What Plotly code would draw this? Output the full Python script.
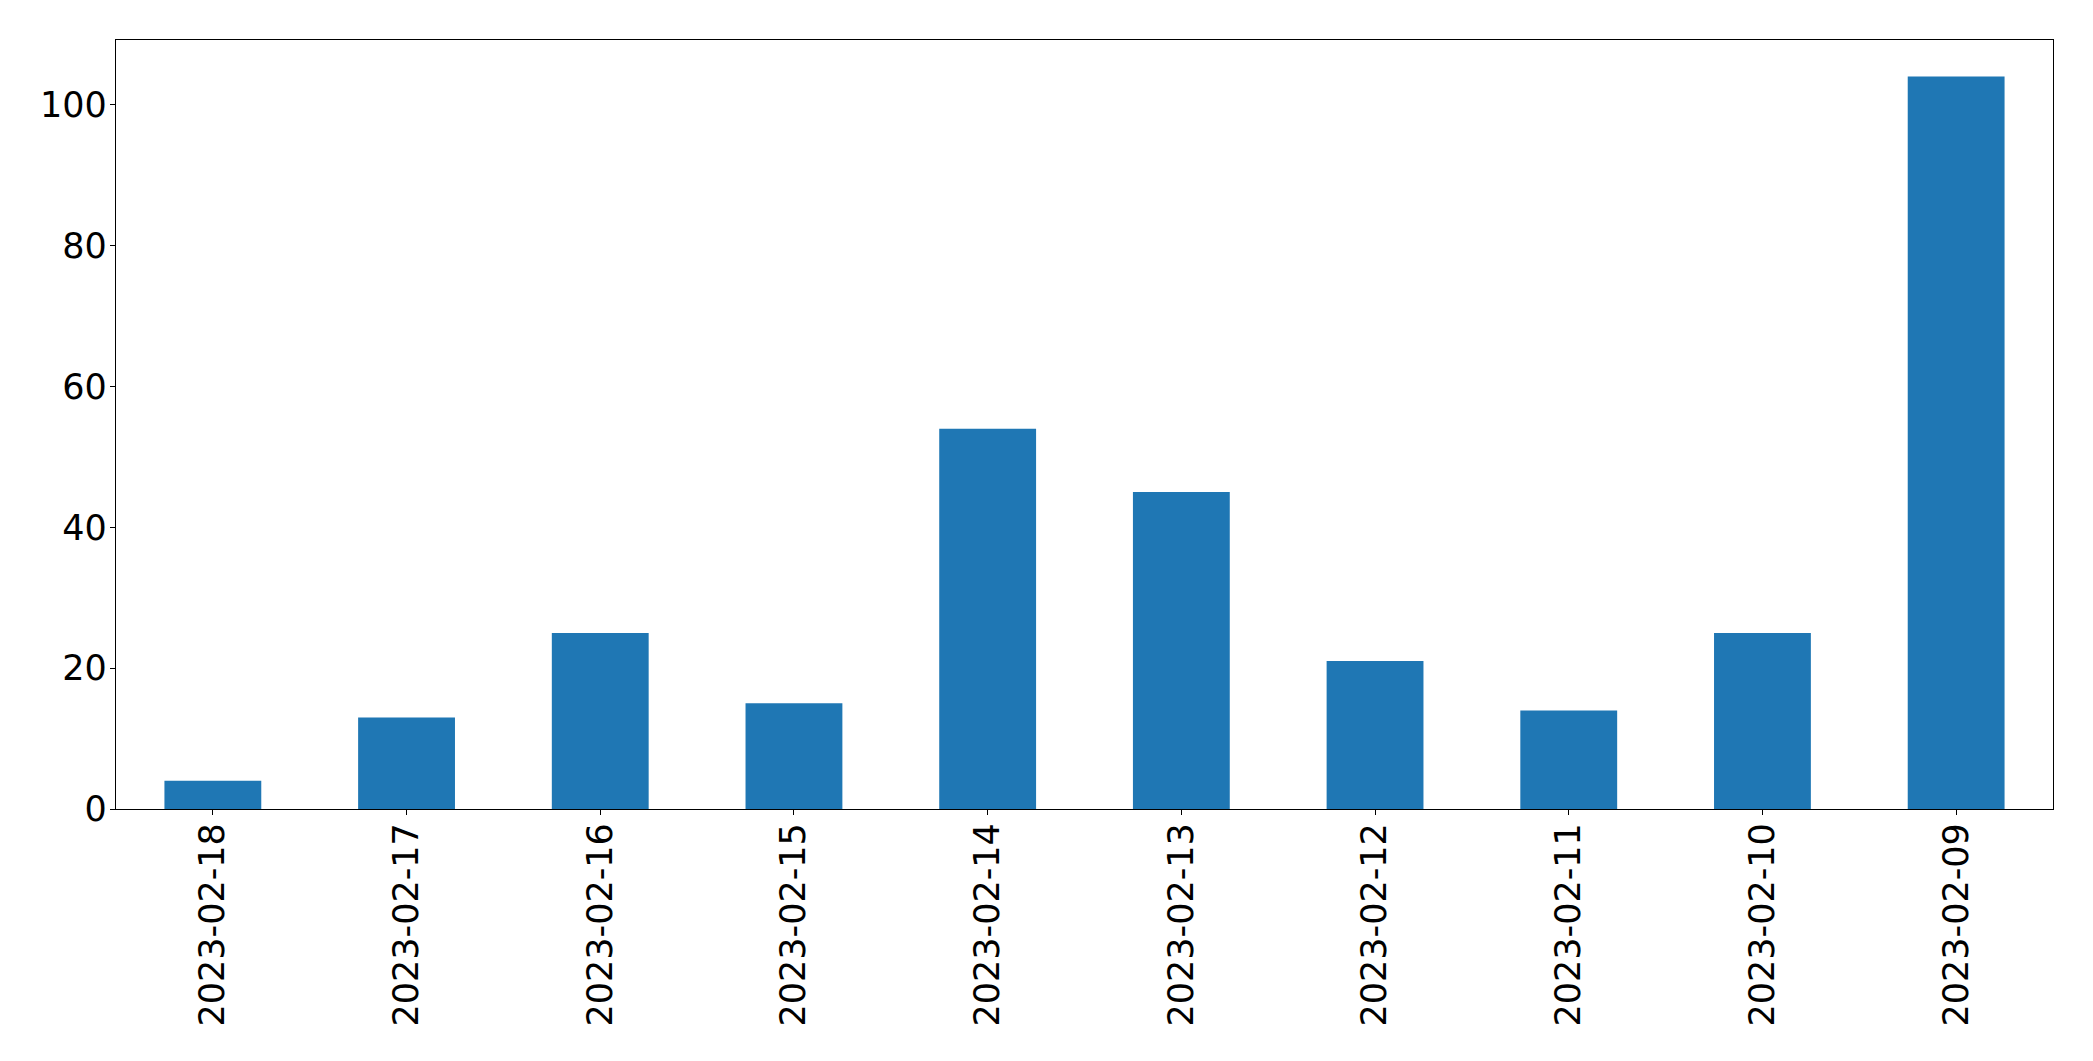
import plotly.graph_objects as go

dates = ["2023-02-18", "2023-02-17", "2023-02-16", "2023-02-15", "2023-02-14",
         "2023-02-13", "2023-02-12", "2023-02-11", "2023-02-10", "2023-02-09"]
counts = [4, 13, 25, 15, 54, 45, 21, 14, 25, 104]
y_ticks = [0, 20, 40, 60, 80, 100]

fig = go.Figure(go.Bar(x=dates, y=counts, marker=dict(color="#1f77b4", line=dict(width=0)), width=0.5))

fig.update_layout(
    width=2077, height=1045,
    margin=dict(l=108, r=32, t=32, b=244, autoexpand=False),
    paper_bgcolor="white", plot_bgcolor="white",
    font=dict(family="DejaVu Sans", size=35, color="black"),
    showlegend=False,
)
fig.update_xaxes(
    type="category", range=[-0.5, 9.5], tickangle=-90,
    showline=True, linecolor="black", linewidth=1.3, mirror=True,
    ticks="outside", ticklen=5, tickwidth=1.3, tickcolor="black",
    ticklabelstandoff=-6,
    showgrid=False, zeroline=False,
)
fig.update_yaxes(
    range=[0, 109.2], tickvals=y_ticks, ticktext=[str(v) for v in y_ticks],
    showline=True, linecolor="black", linewidth=1.3, mirror=True,
    ticks="outside", ticklen=5, tickwidth=1.3, tickcolor="black",
    ticklabelstandoff=-4,
    showgrid=False, zeroline=False,
)
fig.write_html("out.html")
